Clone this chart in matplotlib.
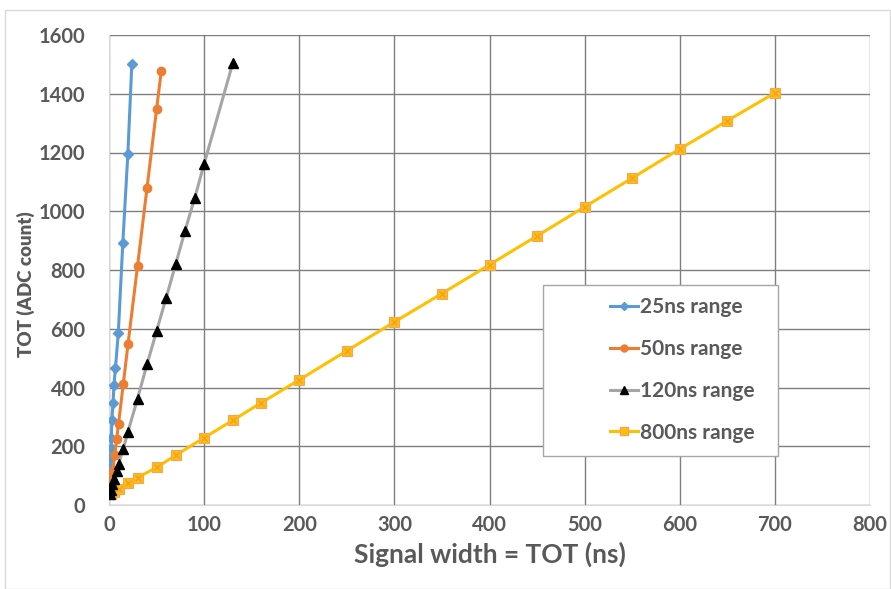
import numpy as np
import matplotlib.pyplot as plt
from matplotlib.patches import Rectangle
from matplotlib.lines import Line2D

plt.rcParams['font.family'] = ['Lato', 'DejaVu Sans']

# Values
x_25ns = [0.5, 0.9, 1.3, 1.7, 2.1, 2.5, 3.0, 4.2, 5.2, 6.8, 9.8, 14.5, 19.8, 24]
y_25ns = [68, 102, 130, 159, 193, 227, 289, 346, 408, 467, 587, 891, 1194, 1500]

x_50ns = [1, 2, 3, 4, 6, 8, 10, 15, 20, 30, 40, 50, 55]
y_50ns = [40, 63, 90, 116, 170, 224, 276, 412, 548, 814, 1080, 1347, 1478]

x_120ns = [1, 2, 3, 5, 8, 10, 15, 20, 30, 40, 50, 60, 70, 80, 90, 100, 130]
y_120ns = [38, 50, 72, 87, 115, 140, 191, 250, 362, 479, 592, 704, 819, 934, 1044, 1161, 1503]

x_800ns = [1, 2, 5, 10, 20, 30, 50, 70, 100, 130, 160, 200, 250, 300, 350,
           400, 450, 500, 550, 600, 650, 700]
y_800ns = [37, 39, 45, 55, 74, 93, 128, 169, 229, 288, 348, 426, 525, 623, 720,
           818, 916, 1015, 1113, 1212, 1308, 1403]

BLUE = "#5B9BD5"
ORANGE = "#ED7D31"
GRAY = "#A5A5A5"
YELLOW = "#FFC000"
TXT = "#595959"

fig = plt.figure(figsize=(8.91, 5.89), dpi=100)
ax = fig.add_axes([109/891, 84/589, 761/891, 470/589])

# Outer chart border
fig.patches.append(Rectangle((5/891, 0), 885/891, 579/589, transform=fig.transFigure,
                             fill=False, edgecolor="#D9D9D9", linewidth=1))

ax.plot(x_25ns, y_25ns, color=BLUE, lw=2.2, marker="D", ms=5,
        mfc=BLUE, mec=BLUE, zorder=4)
ax.plot(x_50ns, y_50ns, color=ORANGE, lw=2.2, marker="o", ms=6,
        mfc=ORANGE, mec=ORANGE, zorder=4)
ax.plot(x_120ns, y_120ns, color=GRAY, lw=2.2, marker="^", ms=7,
        mfc="black", mec="black", zorder=4)
ax.plot(x_800ns, y_800ns, color=YELLOW, lw=2.2, marker="s", ms=7,
        mfc=YELLOW, mec="#F4A460", mew=0.8, zorder=3)
ax.plot(x_800ns, y_800ns, ls="none", marker="x", ms=4.5, mec="#F0A030", mew=1.0, zorder=3)

ax.set_xlim(0, 800)
ax.set_ylim(0, 1600)
ax.set_xticks(np.arange(0, 801, 100))
ax.set_yticks(np.arange(0, 1601, 200))
ax.grid(True, color="#7F7F7F", lw=1.0, zorder=0)
ax.set_axisbelow(True)
for s in ["top", "right"]:
    ax.spines[s].set_visible(False)
ax.spines["left"].set_color("#D9D9D9")
ax.spines["bottom"].set_color("#D9D9D9")
ax.tick_params(length=0, labelsize=14.5, labelcolor=TXT)
ax.tick_params(axis="y", pad=17)
ax.tick_params(axis="x", pad=7)
for lbl in ax.get_xticklabels() + ax.get_yticklabels():
    lbl.set_fontweight("bold")

ax.set_xlabel("Signal width = TOT (ns)", fontsize=19, fontweight="bold", color=TXT, labelpad=5)
ax.set_ylabel("TOT (ADC count)", fontsize=13.5, fontweight="heavy", color=TXT)
ax.yaxis.set_label_coords(-0.097, 0.47)

# Legend box
ax.add_patch(Rectangle((0.57, 0.105), 0.309, 0.363, transform=ax.transAxes,
                       facecolor="white", edgecolor="#A6A6A6", lw=1, zorder=5))
handles = [
    Line2D([], [], color=BLUE, lw=2.2, marker="D", ms=4, mfc=BLUE, mec=BLUE),
    Line2D([], [], color=ORANGE, lw=2.2, marker="o", ms=5, mfc=ORANGE, mec=ORANGE),
    Line2D([], [], color=GRAY, lw=2.2, marker="^", ms=6, mfc="black", mec="black"),
    Line2D([], [], color=YELLOW, lw=2.2, marker="s", ms=6, mfc=YELLOW, mec="#F4A460"),
]
labels = ["25ns range", "50ns range", "120ns range", "800ns range"]
leg = ax.legend(handles, labels, loc="upper left", bbox_to_anchor=(0.647, 0.46),
                frameon=False, fontsize=15, handlelength=1.35, handletextpad=0.1,
                labelspacing=1.05, borderaxespad=0)
leg.set_zorder(6)
for t in leg.get_texts():
    t.set_color(TXT)
    t.set_fontweight("bold")

fig.savefig("out.png", dpi=100)
